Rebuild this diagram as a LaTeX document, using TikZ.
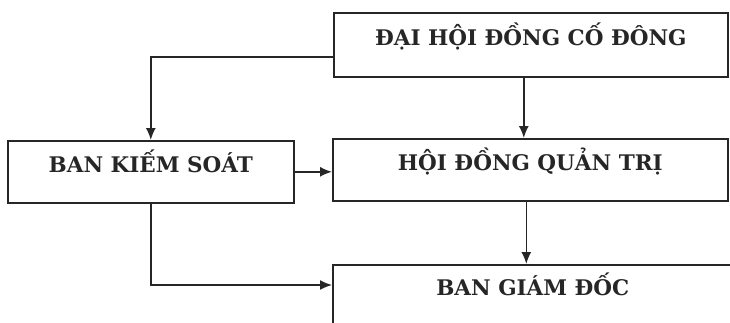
\documentclass[tikz,border=0pt]{standalone}
\usepackage{fontspec}
\setmainfont{DejaVu Serif}
\usetikzlibrary{arrows.meta}
\begin{document}
\begin{tikzpicture}[x=1pt,y=-1pt,
  box/.style={draw=black!85, line width=1.6pt, inner xsep=0pt, inner ysep=0pt,
    font=\fontsize{21.5}{24}\selectfont\bfseries, text=black!85, anchor=north west},
  arr/.style={draw=black!85, line width=1.6pt, -{Latex[length=12pt,width=10pt]}}]
\useasboundingbox (0,0) rectangle (730,322);
\clip (0,0) rectangle (730,322);
\fill[white] (0,0) rectangle (730,322);
\node[box, minimum width=394pt, text height=33pt, text depth=31pt] (dhd) at (333,12) {ĐẠI HỘI ĐỒNG CỐ ĐÔNG};
\node[box, minimum width=286pt, text height=32pt, text depth=30pt] (bks) at (7,140) {BAN KIẾM SOÁT};
\node[box, minimum width=395pt, text height=32pt, text depth=30pt] (hdqt) at (332,138) {HỘI ĐỒNG QUẢN TRỊ};
\node[box, minimum width=400pt, text height=30.5pt, text depth=40pt] (bgd) at (332,264) {BAN GIÁM ĐỐC};
\coordinate (c1) at (0,57);
\coordinate (c2) at (0,285);
\draw[arr] (dhd.west |- c1) -| (bks.north);
\draw[arr] ([xshift=-7pt]dhd.south) -- ([xshift=-7pt]dhd.south |- hdqt.north);
\draw[arr] (bks.east) -- (bks.east -| hdqt.west);
\draw[arr] ([xshift=-4pt]hdqt.south) -- ([xshift=-4pt]hdqt.south |- bgd.north);
\draw[arr] (bks.south) |- (bgd.west |- c2);
\end{tikzpicture}
\end{document}
